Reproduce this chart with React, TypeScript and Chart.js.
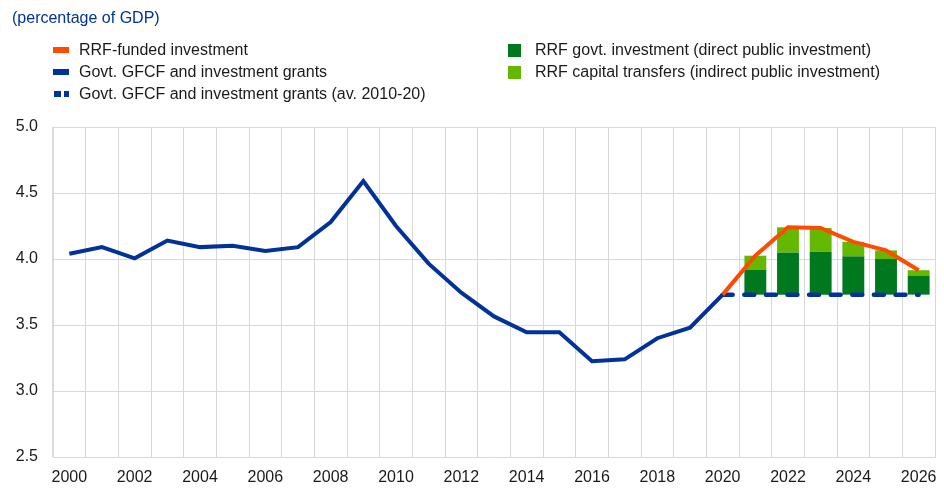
import React, { useEffect, useRef } from "react";
import { Chart, registerables } from "chart.js";

Chart.register(...registerables);

const years: string[] = [
  "2000", "2001", "2002", "2003", "2004", "2005", "2006", "2007", "2008", "2009",
  "2010", "2011", "2012", "2013", "2014", "2015", "2016", "2017", "2018", "2019",
  "2020", "2021", "2022", "2023", "2024", "2025", "2026",
];

// Govt. GFCF and investment grants, 2000-2020
const govtGfcf: number[] = [
  4.04, 4.09, 4.005, 4.14, 4.09, 4.1, 4.06, 4.09, 4.28, 4.59,
  4.25, 3.965, 3.745, 3.565, 3.445, 3.445, 3.225, 3.24, 3.4, 3.48,
  3.73,
];

// Average 2010-20
const avg2010_20 = 3.73;

// Projection years 2020-2026 for the RRF-funded investment line
const rrfFunded: number[] = [3.73, 4.025, 4.24, 4.235, 4.13, 4.065, 3.915];

// Bar components (2021-2026), increments over the 2010-20 average
const rrfDirect: number[] = [0.19, 0.32, 0.325, 0.29, 0.27, 0.145];
const rrfTransfers: number[] = [0.105, 0.19, 0.18, 0.11, 0.065, 0.04];

const yTicks: number[] = [2.5, 3.0, 3.5, 4.0, 4.5, 5.0];

const BLUE = "#003299";
const ORANGE = "#ff4b00";
const DARK_GREEN = "#00781e";
const LIGHT_GREEN = "#65b800";
const GRID = "#d9d9d9";
const FONT = "'Liberation Sans', Arial, sans-serif";
const TEXT = "#1a1a1a";

export default function App() {
  const canvasRef = useRef<HTMLCanvasElement | null>(null);

  useEffect(() => {
    document.body.style.margin = "0";
    const canvas = canvasRef.current;
    if (!canvas) return;

    const firstProj = years.indexOf("2020");

    const blueData = years.map((_, i) => (i < govtGfcf.length ? govtGfcf[i] : null));
    const avgData = years.map((_, i) => (i >= firstProj ? avg2010_20 : null));
    const orangeData = years.map((_, i) => (i >= firstProj ? rrfFunded[i - firstProj] : null));
    const directData = years.map((_, i) => {
      const k = i - firstProj - 1;
      if (k < 0) return null;
      return [avg2010_20, avg2010_20 + rrfDirect[k]];
    });
    const transferData = years.map((_, i) => {
      const k = i - firstProj - 1;
      if (k < 0) return null;
      return [avg2010_20 + rrfDirect[k], avg2010_20 + rrfDirect[k] + rrfTransfers[k]];
    });

    const chart = new Chart(canvas, {
      type: "bar",
      data: {
        labels: years,
        datasets: [
          {
            type: "line",
            label: "RRF-funded investment",
            data: orangeData as any,
            borderColor: ORANGE,
            backgroundColor: ORANGE,
            borderWidth: 4,
            pointRadius: 0,
            tension: 0,
            order: 0,
          },
          {
            type: "line",
            label: "Govt. GFCF and investment grants",
            data: blueData as any,
            borderColor: BLUE,
            backgroundColor: BLUE,
            borderWidth: 4,
            pointRadius: 0,
            tension: 0,
            order: 1,
          },
          {
            type: "line",
            label: "Govt. GFCF and investment grants (av. 2010-20)",
            data: avgData as any,
            borderColor: BLUE,
            backgroundColor: BLUE,
            borderWidth: 4.5,
            borderDash: [10, 11.6],
            borderCapStyle: "round",
            pointRadius: 0,
            tension: 0,
            order: 2,
          },
          {
            type: "bar",
            label: "RRF govt. investment (direct public investment)",
            data: directData as any,
            backgroundColor: DARK_GREEN,
            borderWidth: 0,
            grouped: false,
            barPercentage: 0.67,
            categoryPercentage: 1,
            order: 3,
          },
          {
            type: "bar",
            label: "RRF capital transfers (indirect public investment)",
            data: transferData as any,
            backgroundColor: LIGHT_GREEN,
            borderWidth: 0,
            grouped: false,
            barPercentage: 0.67,
            categoryPercentage: 1,
            order: 3,
          },
        ],
      },
      options: {
        responsive: false,
        animation: false,
        devicePixelRatio: 1,
        layout: { padding: { top: 127, right: 9, bottom: 0, left: 0 } },
        plugins: {
          legend: { display: false },
          tooltip: { enabled: false },
        },
        scales: {
          x: {
            offset: true,
            grid: { color: GRID, lineWidth: 1, drawTicks: false, offset: true },
            border: { display: true, color: GRID },
            ticks: {
              autoSkip: false,
              maxRotation: 0,
              minRotation: 0,
              padding: 11,
              color: TEXT,
              font: { family: FONT, size: 16 },
              callback: (_v: any, i: number) => (i % 2 === 0 ? years[i] : ""),
            },
            afterFit: (scale: any) => {
              scale.height = 31;
              scale.paddingRight = 0;
              scale.paddingLeft = 0;
            },
          },
          y: {
            min: yTicks[0],
            max: yTicks[yTicks.length - 1],
            afterBuildTicks: (scale: any) => {
              scale.ticks = yTicks.map((v) => ({ value: v }));
            },
            grid: { color: GRID, lineWidth: 1, drawTicks: false },
            border: { display: true, color: GRID },
            ticks: {
              padding: 15,
              color: TEXT,
              font: { family: FONT, size: 16 },
              callback: (v: any) => Number(v).toFixed(1),
            },
            afterFit: (scale: any) => {
              scale.width = 53;
            },
          },
        },
      },
    });

    return () => {
      chart.destroy();
    };
  }, []);

  const textStyle: React.CSSProperties = {
    position: "absolute",
    fontFamily: FONT,
    fontSize: 16,
    lineHeight: "22px",
    color: TEXT,
    whiteSpace: "nowrap",
  };

  const leftItems = [
    { label: "RRF-funded investment", kind: "line", color: ORANGE },
    { label: "Govt. GFCF and investment grants", kind: "line", color: BLUE },
    { label: "Govt. GFCF and investment grants (av. 2010-20)", kind: "dash", color: BLUE },
  ];
  const rightItems = [
    { label: "RRF govt. investment (direct public investment)", color: DARK_GREEN },
    { label: "RRF capital transfers (indirect public investment)", color: LIGHT_GREEN },
  ];

  return (
    <div style={{ position: "relative", width: 944, height: 488, background: "#fff", overflow: "hidden" }}>
      <canvas
        ref={canvasRef}
        width={944}
        height={488}
        style={{ position: "absolute", left: 0, top: 0, width: 944, height: 488, display: "block" }}
      />
      <div style={{ ...textStyle, left: 12, top: 7, color: BLUE }}>(percentage of GDP)</div>
      {leftItems.map((it, i) => {
        const cy = 50 + i * 22;
        return (
          <React.Fragment key={it.label}>
            {it.kind === "line" ? (
              <div style={{ position: "absolute", left: 53, top: cy - 3, width: 16, height: 6, background: it.color }} />
            ) : (
              <>
                <div style={{ position: "absolute", left: 54, top: cy - 3, width: 7, height: 6, background: it.color }} />
                <div style={{ position: "absolute", left: 64, top: cy - 3, width: 5, height: 6, background: it.color }} />
              </>
            )}
            <div style={{ ...textStyle, left: 79, top: cy - 11.5 }}>{it.label}</div>
          </React.Fragment>
        );
      })}
      {rightItems.map((it, i) => {
        const cy = 50 + i * 22;
        return (
          <React.Fragment key={it.label}>
            <div style={{ position: "absolute", left: 508, top: cy - 6.5, width: 13, height: 13, background: it.color }} />
            <div style={{ ...textStyle, left: 535, top: cy - 11 }}>{it.label}</div>
          </React.Fragment>
        );
      })}
    </div>
  );
}
